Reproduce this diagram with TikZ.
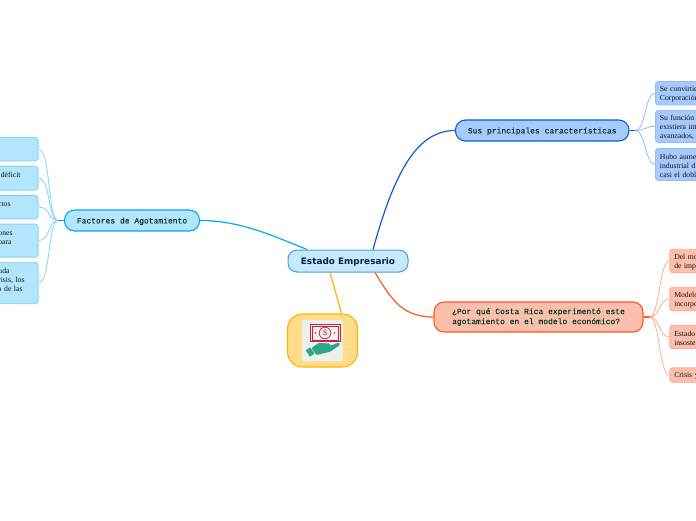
\documentclass[tikz,border=0pt]{standalone}
\usepackage{fontspec}
\setmainfont{Liberation Serif}
\newfontfamily\branchfont[FakeBold=0.35]{Liberation Mono}
\newfontfamily\rootfont{DejaVu Sans}
\usetikzlibrary{positioning, calc}
\definecolor{mapsky}{RGB}{3, 169, 244}
\definecolor{mapskyfill}{RGB}{179, 229, 252}
\definecolor{mapskyline}{RGB}{129, 212, 250}
\definecolor{mapblue}{RGB}{11, 94, 215}
\definecolor{mapbluefill}{RGB}{166, 202, 253}
\definecolor{mapblueline}{RGB}{144, 189, 249}
\definecolor{maporange}{RGB}{255, 87, 34}
\definecolor{maporangefill}{RGB}{251, 191, 172}
\definecolor{maporangeline}{RGB}{255, 171, 145}
\definecolor{mapyellow}{RGB}{255, 179, 0}
\definecolor{mapyellowfill}{RGB}{255, 219, 138}
\definecolor{rootfill}{RGB}{197, 233, 253}
\definecolor{rootline}{RGB}{74, 159, 216}
\definecolor{roottext}{RGB}{10, 32, 80}
\definecolor{branchtext}{RGB}{10, 58, 42}
\definecolor{leaftext}{RGB}{20, 20, 20}
\definecolor{cashred}{RGB}{205, 30, 70}
\definecolor{cashgreen}{RGB}{47, 165, 141}
\definecolor{iconpaper}{RGB}{238, 240, 236}
\newcommand{\margen}[1]{\rule{#1pt}{0pt}}

\begin{document}
\begin{tikzpicture}[
		x=1pt, y=-1pt,
		% estilos
		bajar/.style={execute at begin node={\rule{0pt}{#1pt}}},
		rootnode/.style={rectangle, draw=rootline, fill=rootfill, text=roottext, line width=1pt, rounded corners=9pt, minimum width=120pt, minimum height=22pt, align=center, inner sep=0pt, bajar=8.5, font=\rootfont\bfseries\fontsize{8.9}{10}\selectfont},
		branch/.style={rectangle, line width=1.1pt, rounded corners=10pt, text=branchtext, align=left, inner sep=0pt, minimum height=21pt, bajar=7.5, font=\branchfont\fontsize{8}{10}\selectfont},
		leaf/.style={rectangle, line width=0.9pt, rounded corners=3pt, text=leaftext, inner sep=0pt, bajar=7.5, font=\fontsize{7.7}{9}\selectfont},
		leafleft/.style={leaf, draw=mapskyline, fill=mapskyfill, text width=46pt, inner xsep=13.5pt, align=right},
		leafblue/.style={leaf, draw=mapblueline, fill=mapbluefill, text width=70pt, inner xsep=4.5pt, align=left},
		leaforange/.style={leaf, draw=maporangeline, fill=maporangefill, text width=70pt, inner xsep=4.5pt, align=left},
		trunk/.style={line width=1.2pt},
		twig/.style={line width=0.8pt}
		]
		
		\clip (0,0) rectangle (696,520);
		
		% ==========================================
		% Nodo central y ramas
		% ==========================================
		\node[rootnode] (root) at (348,261) {Estado Empresario};
		
		\node[branch, draw=mapsky, fill=mapskyfill, minimum width=135pt] (factores) at (132,220.5) {Factores de Agotamiento};
		\node[branch, draw=mapblue, fill=mapbluefill, minimum width=173.5pt] (rasgos) at (542.2,130.5) {Sus principales características};
		\node[branch, draw=maporange, fill=maporangefill, minimum width=209pt, minimum height=30pt] (porque) at (538.5,317) {¿Por qué Costa Rica experimentó este\\agotamiento en el modelo económico?};
		
		% Icono
		\node[rectangle, draw=mapyellow, fill=mapyellowfill, line width=1.1pt, rounded corners=15pt, minimum width=70pt, minimum height=53pt, inner sep=0pt] (icono) at (322.5,340.5) {};
		\node[rectangle, fill=iconpaper, rounded corners=2pt, minimum width=41pt, minimum height=41pt, inner sep=0pt] (papel) at (322.5,340.5) {};
		
		% ==========================================
		% Hojas de la izquierda
		% ==========================================
		\node[leafleft, minimum height=23.5pt, anchor=north east] (izq1) at (38.5,137) {\mbox{}};
		\node[leafleft, minimum height=24pt, below=4.3pt of izq1] (izq2) {déficit\margen{4}\\\mbox{}};
		\node[leafleft, minimum height=23.5pt, below=4.3pt of izq2] (izq3) {ctos\margen{14}\\\mbox{}};
		\node[leafleft, minimum height=33pt, below=4.3pt of izq3] (izq4) {ones\margen{12}\\para\margen{13}\\\mbox{}};
		\node[leafleft, minimum height=41.5pt, below=4.3pt of izq4] (izq5) {uda\margen{15}\\risis, los\\o de las\margen{2}\\\mbox{}};
		
		% ==========================================
		% Hojas de la derecha
		% ==========================================
		\node[leafblue, minimum height=23.5pt, anchor=north west] (sus1) at (655,81) {Se convirtie\\Corporación};
		\node[leafblue, minimum height=32pt, below=4.6pt of sus1] (sus2) {Su función\\existiera int\\avanzados,};
		\node[leafblue, minimum height=32pt, below=5.1pt of sus2] (sus3) {Hubo aume\\industrial d\\casi el dobl};
		
		\node[leaforange, minimum height=23.5pt, anchor=north west] (por1) at (669.3,248.8) {Del mo\\de imp};
		\node[leaforange, minimum height=23.5pt, below=13.6pt of por1] (por2) {Modelo\\incorpo};
		\node[leaforange, minimum height=23.5pt, below=13.6pt of por2] (por3) {Estado\\insoste};
		\node[leaforange, minimum height=14.5pt, below=18.1pt of por3] (por4) {Crisis y};
		
		% ==========================================
		% Conexiones del centro
		% ==========================================
		\draw[trunk, mapsky] ([xshift=-41pt]root.north) .. controls +(-35,-14) and +(40,0) .. (factores.east);
		\draw[trunk, mapblue] ([xshift=25pt]root.north) .. controls +(20,-72) and +(-40,0) .. (rasgos.west);
		\draw[trunk, maporange] ([xshift=27pt]root.south) .. controls +(16,26) and +(-32,0) .. (porque.west);
		\draw[trunk, mapyellow] ([xshift=-18pt]root.south) -- ([xshift=19pt]icono.north);
		
		% ==========================================
		% Conexiones de las hojas
		% ==========================================
		\draw[trunk, mapsky] (factores.west) -- ++(-6,0) coordinate (hubizq);
		\draw[twig, mapskyline] (hubizq) .. controls +(-10,0) and +(12,0) .. (izq1.east);
		\draw[twig, mapskyline] (hubizq) .. controls +(-10,0) and +(12,0) .. (izq2.east);
		\draw[twig, mapskyline] (hubizq) .. controls +(-10,0) and +(12,0) .. (izq3.east);
		\draw[twig, mapskyline] (hubizq) .. controls +(-10,0) and +(12,0) .. (izq4.east);
		\draw[twig, mapskyline] (hubizq) .. controls +(-10,0) and +(12,0) .. (izq5.east);
		
		\draw[trunk, mapblue] (rasgos.east) -- ++(6,0) coordinate (hubsus);
		\draw[twig, mapblueline] (hubsus) .. controls +(10,0) and +(-10,0) .. (sus1.west);
		\draw[twig, mapblueline] (hubsus) .. controls +(10,0) and +(-10,0) .. (sus2.west);
		\draw[twig, mapblueline] (hubsus) .. controls +(10,0) and +(-10,0) .. (sus3.west);
		
		\draw[trunk, maporange] (porque.east) -- ++(6,0) coordinate (hubpor);
		\draw[twig, maporangeline] (hubpor) .. controls +(10,0) and +(-10,0) .. (por1.west);
		\draw[twig, maporangeline] (hubpor) .. controls +(10,0) and +(-10,0) .. (por2.west);
		\draw[twig, maporangeline] (hubpor) .. controls +(10,0) and +(-10,0) .. (por3.west);
		\draw[twig, maporangeline] (hubpor) .. controls +(10,0) and +(-10,0) .. (por4.west);
		
		% ==========================================
		% Dibujo del icono
		% ==========================================
		\draw[cashred, line width=1pt, fill=iconpaper] (310,324.3) rectangle (340,341.5);
		\draw[cashred, line width=0.4pt] (312,326) rectangle (338,339.8);
		\draw[cashred, line width=0.7pt] (325,333) circle (5.8);
		\node[text=cashred, inner sep=0pt, font=\fontsize{8}{8}\selectfont] (dolar) at (325,333) {\$};
		\fill[cashred] (315.5,333) circle (0.9) (334.5,333) circle (0.9);
		\fill[cashgreen] (305.7,350.3) -- (310,347.3) -- (314.5,353.3) -- (310,356.7) -- cycle;
		\fill[cashgreen, rounded corners=1pt] (311.5,348) -- (318.5,343) -- (329.5,343.4) -- (331,345.2) -- (328,346.6) -- (339,342.4) -- (340,345) -- (330,351.8) -- (316.5,355) -- cycle;
		
	\end{tikzpicture}
\end{document}
